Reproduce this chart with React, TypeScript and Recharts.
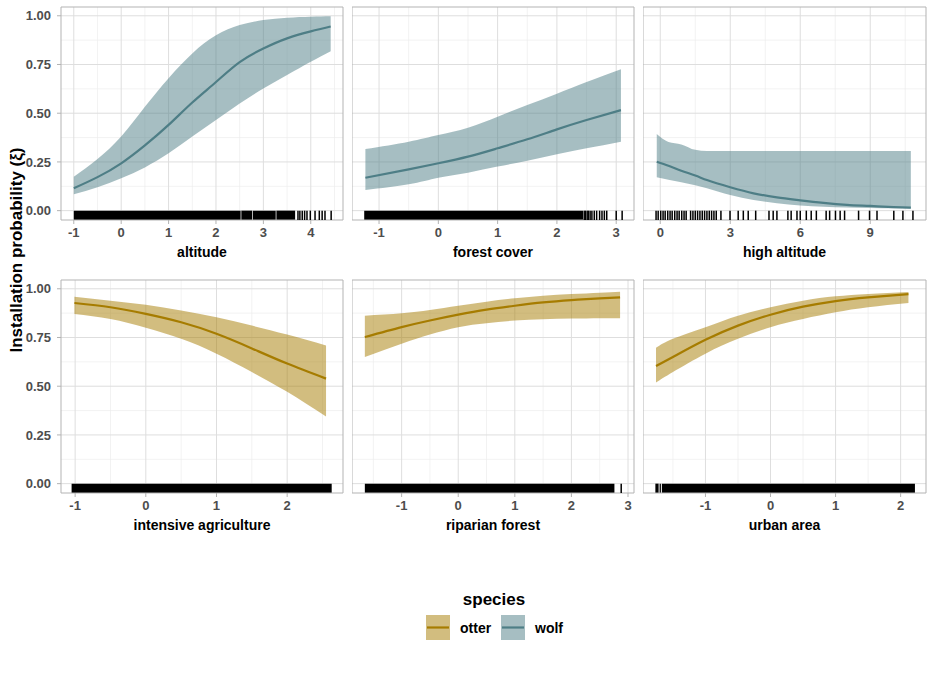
import React from 'react';
import {
  ComposedChart, Area, Line, XAxis, YAxis, CartesianGrid, ReferenceArea, ReferenceLine, Label,
} from 'recharts';

// shared y scale (facet_wrap with fixed y)
const Y_MIN = -0.048;
const Y_MAX = 1.045;
const yTicks = [0, 0.25, 0.5, 0.75, 1];
const yMinor = [0.125, 0.375, 0.625, 0.875];

const OTTER = '#A67C00';
const WOLF = '#4E7E86';

// altitude (wolf)
const altitudeX = [-1, -0.5, 0, 0.5, 1, 1.5, 2, 2.5, 3, 3.5, 4, 4.42];
const altitudeFit = [0.115, 0.172, 0.243, 0.335, 0.44, 0.555, 0.66, 0.762, 0.832, 0.884, 0.92, 0.945];
const altitudeLower = [0.084, 0.12, 0.166, 0.222, 0.294, 0.38, 0.465, 0.55, 0.627, 0.696, 0.764, 0.818];
const altitudeUpper = [0.174, 0.265, 0.38, 0.533, 0.68, 0.807, 0.9, 0.952, 0.978, 0.99, 0.995, 0.997];
const altitudeRugBands: [number, number][] = [[-1, 2.52], [2.535, 2.76], [2.775, 3.26], [3.275, 3.67]];
const altitudeRugTicks = [3.73, 3.77, 3.82, 3.87, 3.92, 3.99, 4.09, 4.18, 4.24, 4.3, 4.43];

// forest cover (wolf)
const forestX = [-1.23, -0.5, 0, 0.5, 1, 1.5, 2, 2.5, 3.08];
const forestFit = [0.169, 0.212, 0.243, 0.277, 0.32, 0.366, 0.417, 0.465, 0.516];
const forestLower = [0.106, 0.135, 0.169, 0.195, 0.226, 0.256, 0.289, 0.32, 0.354];
const forestUpper = [0.316, 0.354, 0.388, 0.426, 0.482, 0.542, 0.6, 0.66, 0.726];
const forestRugBands: [number, number][] = [[-1.25, 2.44]];
const forestRugTicks = [2.46, 2.48, 2.51, 2.53, 2.56, 2.59, 2.63, 2.67, 2.72, 2.76, 2.8, 2.84, 3.0, 3.1];

// high altitude (wolf)
const highAltX = [-0.15, 0.35, 0.9, 1.5, 2, 3, 4, 5, 6, 7, 8, 9, 10, 10.74];
const highAltFit = [0.251, 0.23, 0.205, 0.18, 0.157, 0.12, 0.089, 0.068, 0.053, 0.04, 0.03, 0.024, 0.018, 0.015];
const highAltLower = [0.171, 0.158, 0.146, 0.13, 0.115, 0.08, 0.055, 0.038, 0.027, 0.02, 0.016, 0.014, 0.012, 0.011];
const highAltUpper = [0.393, 0.352, 0.34, 0.312, 0.306, 0.306, 0.306, 0.306, 0.306, 0.306, 0.306, 0.306, 0.306, 0.306];
const highAltRugTicks = [
  -0.18, -0.09, 0.02, 0.12, 0.21, 0.32, 0.42, 0.51, 0.62, 0.72, 0.81, 0.92, 1.02, 1.11,
  1.3, 1.4, 1.5, 1.6, 1.7, 1.8, 1.9, 2.0, 2.1, 2.2, 2.3, 2.4, 2.6, 2.99, 3.34, 3.56, 3.77,
  4.09, 4.66, 4.84, 5.0, 5.47, 5.61, 5.86, 6.0, 6.26, 6.47, 6.69, 7.11, 7.26, 7.51, 7.71,
  7.9, 8.5, 8.97, 9.29, 10.01, 10.4, 10.83,
];

// intensive agriculture (otter)
const agriX = [-1.01, -0.5, 0, 0.5, 1, 1.5, 2, 2.55];
const agriFit = [0.927, 0.905, 0.871, 0.828, 0.769, 0.694, 0.616, 0.539];
const agriLower = [0.871, 0.845, 0.8, 0.743, 0.667, 0.573, 0.471, 0.344];
const agriUpper = [0.959, 0.939, 0.918, 0.888, 0.854, 0.811, 0.765, 0.709];
const agriRugBands: [number, number][] = [[-1.05, 2.63]];

// riparian forest (otter)
const riparianX = [-1.65, -1, -0.5, 0, 0.5, 1, 1.5, 2, 2.5, 2.86];
const riparianFit = [0.752, 0.803, 0.837, 0.867, 0.893, 0.913, 0.93, 0.942, 0.951, 0.956];
const riparianLower = [0.65, 0.718, 0.765, 0.803, 0.823, 0.837, 0.844, 0.847, 0.849, 0.849];
const riparianUpper = [0.862, 0.874, 0.891, 0.913, 0.934, 0.951, 0.964, 0.973, 0.98, 0.985];
const riparianRugBands: [number, number][] = [[-1.65, 2.76]];
const riparianRugTicks = [2.88];

// urban area (otter)
const urbanX = [-1.76, -1.5, -1, -0.5, 0, 0.5, 1, 1.5, 2.12];
const urbanFit = [0.604, 0.65, 0.738, 0.811, 0.867, 0.908, 0.937, 0.956, 0.973];
const urbanLower = [0.519, 0.573, 0.667, 0.743, 0.803, 0.845, 0.879, 0.905, 0.927];
const urbanUpper = [0.697, 0.743, 0.803, 0.862, 0.905, 0.939, 0.961, 0.973, 0.983];
const urbanRugBands: [number, number][] = [[-1.77, -1.72], [-1.705, -1.685], [-1.67, 2.22]];

type CurveType = 'natural' | 'monotone';

interface PanelSpec {
  title: string;
  color: string;
  curve: CurveType;
  xs: number[];
  fit: number[];
  lower: number[];
  upper: number[];
  domain: [number, number];
  ticks: number[];
  minor: number[];
  rugBands: [number, number][];
  rugTicks: number[];
}

const panels: PanelSpec[] = [
  {
    title: 'altitude', color: WOLF, curve: 'natural',
    xs: altitudeX, fit: altitudeFit, lower: altitudeLower, upper: altitudeUpper,
    domain: [-1.27, 4.68], ticks: [-1, 0, 1, 2, 3, 4], minor: [-0.5, 0.5, 1.5, 2.5, 3.5, 4.5],
    rugBands: altitudeRugBands, rugTicks: altitudeRugTicks,
  },
  {
    title: 'forest cover', color: WOLF, curve: 'natural',
    xs: forestX, fit: forestFit, lower: forestLower, upper: forestUpper,
    domain: [-1.456, 3.3], ticks: [-1, 0, 1, 2, 3], minor: [-0.5, 0.5, 1.5, 2.5],
    rugBands: forestRugBands, rugTicks: forestRugTicks,
  },
  {
    title: 'high altitude', color: WOLF, curve: 'monotone',
    xs: highAltX, fit: highAltFit, lower: highAltLower, upper: highAltUpper,
    domain: [-0.74, 11.39], ticks: [0, 3, 6, 9], minor: [1.5, 4.5, 7.5, 10.5],
    rugBands: [], rugTicks: highAltRugTicks,
  },
  {
    title: 'intensive agriculture', color: OTTER, curve: 'natural',
    xs: agriX, fit: agriFit, lower: agriLower, upper: agriUpper,
    domain: [-1.2, 2.79], ticks: [-1, 0, 1, 2], minor: [-0.5, 0.5, 1.5, 2.5],
    rugBands: agriRugBands, rugTicks: [],
  },
  {
    title: 'riparian forest', color: OTTER, curve: 'natural',
    xs: riparianX, fit: riparianFit, lower: riparianLower, upper: riparianUpper,
    domain: [-1.877, 3.106], ticks: [-1, 0, 1, 2, 3], minor: [-1.5, -0.5, 0.5, 1.5, 2.5],
    rugBands: riparianRugBands, rugTicks: riparianRugTicks,
  },
  {
    title: 'urban area', color: OTTER, curve: 'natural',
    xs: urbanX, fit: urbanFit, lower: urbanLower, upper: urbanUpper,
    domain: [-1.96, 2.39], ticks: [-1, 0, 1, 2], minor: [-1.5, -0.5, 0.5, 1.5],
    rugBands: urbanRugBands, rugTicks: [],
  },
];

// plot-area boxes of the facet grid
const COLS = [{ left: 61, width: 282 }, { left: 352, width: 282 }, { left: 643, width: 283 }];
const ROWS = [{ top: 7, height: 213 }, { top: 280, height: 213 }];
const Y_AXIS_W = 55;
const X_AXIS_H = 40;
const FONT = '"Liberation Sans", Arial, Helvetica, sans-serif';
const TICK_COLOR = '#4d4d4d';

const XTick = (props: any) => {
  const { x, y, payload } = props;
  return (
    <text x={x} y={y} dy="0.71em" textAnchor="middle" fontSize={13} fontWeight={700} fill={TICK_COLOR}>
      {String(payload.value)}
    </text>
  );
};

const YTick = (props: any) => {
  const { x, y, payload } = props;
  return (
    <text x={x} y={y} dy="0.36em" textAnchor="end" fontSize={13} fontWeight={700} fill={TICK_COLOR}>
      {Number(payload.value).toFixed(2)}
    </text>
  );
};

const Panel: React.FC<{ spec: PanelSpec; row: number; col: number }> = ({ spec, row, col }) => {
  const showY = col === 0;
  const yw = showY ? Y_AXIS_W : 0;
  const { left, width } = COLS[col];
  const { top, height } = ROWS[row];
  const data = spec.xs.map((x, i) => ({ x, band: [spec.lower[i], spec.upper[i]], fit: spec.fit[i] }));

  return (
    <div style={{ position: 'absolute', left: left - yw, top: top - 1 }}>
      <ComposedChart
        width={width + yw + 1}
        height={height + 1 + X_AXIS_H}
        data={data}
        margin={{ top: 1, right: 1, bottom: 0, left: 0 }}
      >
        <CartesianGrid horizontalValues={yMinor} verticalValues={spec.minor} stroke="#ececec" strokeWidth={0.7} />
        <CartesianGrid horizontalValues={yTicks} verticalValues={spec.ticks} stroke="#dedede" strokeWidth={1} />
        <XAxis
          type="number"
          dataKey="x"
          domain={spec.domain}
          ticks={spec.ticks}
          interval={0}
          allowDataOverflow
          height={X_AXIS_H}
          axisLine={false}
          tickSize={4}
          tickMargin={4}
          tickLine={{ stroke: '#b3b3b3' }}
          tick={<XTick />}
        >
          <Label value={spec.title} position="insideBottom" offset={3} fontSize={14} fontWeight={700} fill="#000" />
        </XAxis>
        <YAxis
          type="number"
          domain={[Y_MIN, Y_MAX]}
          ticks={yTicks}
          interval={0}
          allowDataOverflow
          hide={!showY}
          width={Y_AXIS_W}
          axisLine={false}
          tickSize={4}
          tickMargin={6}
          tickLine={{ stroke: '#b3b3b3' }}
          tick={<YTick />}
        />
        <Area
          dataKey="band"
          type={spec.curve}
          stroke="none"
          fill={spec.color}
          fillOpacity={0.5}
          isAnimationActive={false}
        />
        <Line
          dataKey="fit"
          type={spec.curve}
          stroke={spec.color}
          strokeWidth={2.2}
          dot={false}
          isAnimationActive={false}
        />
        {spec.rugBands.map(([a, b], i) => (
          <ReferenceArea key={`band-${i}`} x1={a} x2={b} y1={Y_MIN} y2={0} fill="#000" fillOpacity={1} stroke="none" ifOverflow="visible" />
        ))}
        {spec.rugTicks.map((v, i) => (
          <ReferenceLine
            key={`tick-${i}`}
            segment={[{ x: v, y: Y_MIN }, { x: v, y: 0 }]}
            stroke="#000"
            strokeWidth={1.5}
            ifOverflow="visible"
          />
        ))}
        <ReferenceArea
          x1={spec.domain[0]}
          x2={spec.domain[1]}
          y1={Y_MIN}
          y2={Y_MAX}
          fill="none"
          stroke="#b3b3b3"
          strokeWidth={1}
          ifOverflow="visible"
        />
      </ComposedChart>
    </div>
  );
};

const legendItems = [
  { label: 'otter', color: OTTER, boxX: 426, textX: 460 },
  { label: 'wolf', color: WOLF, boxX: 501, textX: 535 },
];

export default function App() {
  return (
    <div style={{ position: 'absolute', left: 0, top: 0, width: 933, height: 682, background: '#fff', fontFamily: FONT }}>
      {panels.map((p, i) => (
        <Panel key={p.title} spec={p} row={Math.floor(i / 3)} col={i % 3} />
      ))}
      <svg width={933} height={682} style={{ position: 'absolute', left: 0, top: 0, pointerEvents: 'none' }}>
        <text
          transform="translate(16,250) rotate(-90)"
          textAnchor="middle"
          dominantBaseline="central"
          fontSize={17}
          fontWeight={700}
          fill="#000"
        >
          Installation probability (ξ)
        </text>
        <text x={494} y={599} textAnchor="middle" dominantBaseline="central" fontSize={17} fontWeight={700} fill="#000">
          species
        </text>
        {legendItems.map((it) => (
          <g key={it.label}>
            <rect x={it.boxX} y={615} width={24} height={25} fill={it.color} fillOpacity={0.5} />
            <line x1={it.boxX + 1} x2={it.boxX + 23} y1={627.5} y2={627.5} stroke={it.color} strokeWidth={2.2} />
            <text x={it.textX} y={628} dominantBaseline="central" fontSize={14} fontWeight={700} fill="#000">
              {it.label}
            </text>
          </g>
        ))}
      </svg>
    </div>
  );
}
